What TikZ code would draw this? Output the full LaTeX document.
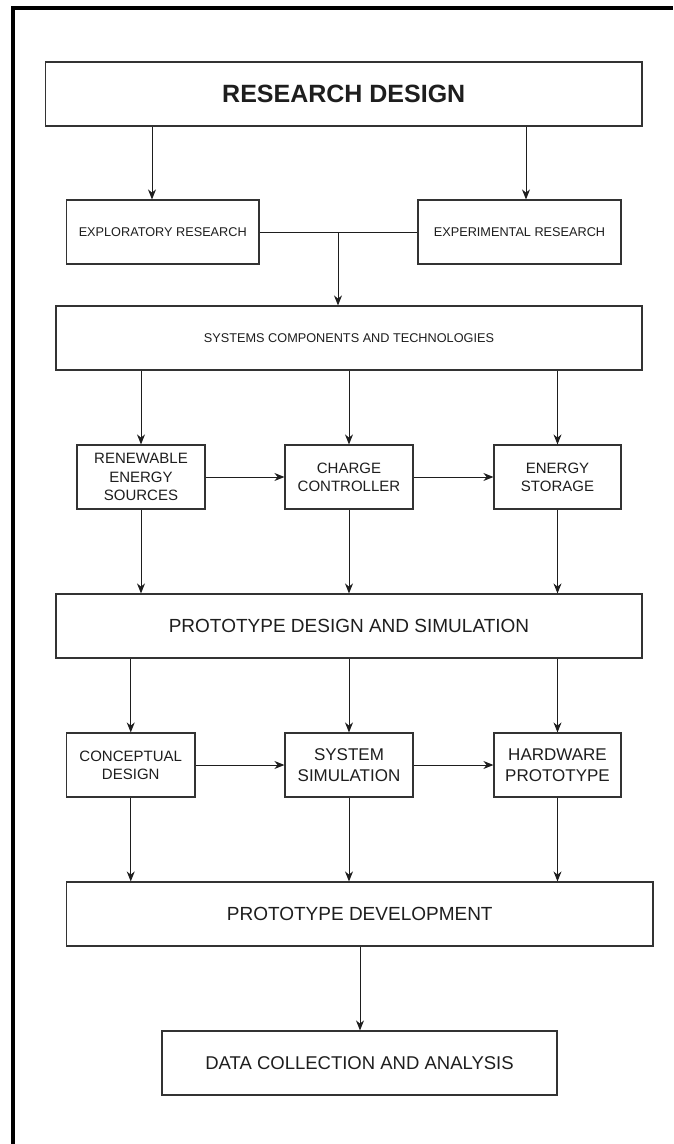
\documentclass[tikz,border=0pt]{standalone}
\usepackage{fontspec}
\setmainfont{Liberation Sans}
\usetikzlibrary{arrows.meta,calc}
\definecolor{ink}{HTML}{1E1E1E}
\definecolor{edge}{HTML}{333333}
\tikzset{
  box/.style={draw=edge, line width=1.2pt, rectangle, inner sep=0pt, align=center, text=ink},
  arr/.style={draw=ink, line width=1pt, -{Stealth[length=10pt,width=8pt]}},
  link/.style={draw=ink, line width=1pt},
  frameline/.style={draw=black, line width=4pt}
}
\newcommand{\fs}[2]{\fontsize{#1}{#2}\selectfont}
\begin{document}
\begin{tikzpicture}[x=1pt,y=-1pt]
\useasboundingbox (0,0) rectangle (673,1144);
\fill[white] (0,0) rectangle (673,1144);
\draw[frameline] (13,1144) -- (13,8) -- (673,8);

\node[box, minimum width=596.5pt, minimum height=64pt, font=\fs{25}{30}\bfseries] (rd) at (343.75,94) {RESEARCH DESIGN};
\node[box, minimum width=192.5pt, minimum height=64pt, font=\fs{12.7}{15}] (expl) at (162.75,232) {EXPLORATORY RESEARCH};
\node[box, minimum width=203pt, minimum height=64pt, font=\fs{12.7}{15}] (expe) at (519.5,232) {EXPERIMENTAL RESEARCH};
\node[box, minimum width=586pt, minimum height=64pt, font=\fs{12.7}{15}] (sys) at (349,338) {SYSTEMS COMPONENTS AND TECHNOLOGIES};

\node[box, minimum width=128pt, minimum height=64pt, font=\fs{15}{18.3}] (ren) at (141,477) {RENEWABLE\\ENERGY\\SOURCES};
\node[box, minimum width=128pt, minimum height=64pt, font=\fs{15}{18.3}] (chg) at (349,477) {CHARGE\\CONTROLLER};
\node[box, minimum width=127pt, minimum height=64pt, font=\fs{15}{18.3}] (sto) at (557.5,477) {ENERGY\\STORAGE};

\node[box, minimum width=586pt, minimum height=64pt, font=\fs{19}{23}] (pds) at (349,626) {PROTOTYPE DESIGN AND SIMULATION};

\node[box, minimum width=128.5pt, minimum height=64pt, font=\fs{15}{18}] (con) at (130.75,765) {CONCEPTUAL\\DESIGN};
\node[box, minimum width=128pt, minimum height=64pt, font=\fs{17}{21}] (sim) at (349,765) {SYSTEM\\SIMULATION};
\node[box, minimum width=127pt, minimum height=64pt, font=\fs{17}{21}] (hw) at (557.5,765) {HARDWARE\\PROTOTYPE};

\node[box, minimum width=586.5pt, minimum height=64pt, font=\fs{19}{23}] (pdev) at (359.75,914) {PROTOTYPE DEVELOPMENT};
\node[box, minimum width=395pt, minimum height=64pt, font=\fs{18.5}{22}] (data) at (359.5,1063) {DATA COLLECTION AND ANALYSIS};

\coordinate (c1) at (152,0);
\coordinate (c2) at (526,0);
\coordinate (j) at (338,232);
\coordinate (c3) at (360,0);

\draw[arr] (c1 |- rd.south) -- (c1 |- expl.north);
\draw[arr] (c2 |- rd.south) -- (c2 |- expe.north);
\draw[link] (expl.east) -- (expe.west);
\draw[arr] (j) -- (j |- sys.north);

\draw[arr] (sys.south -| ren.north) -- (ren.north);
\draw[arr] (sys.south -| chg.north) -- (chg.north);
\draw[arr] (sys.south -| sto.north) -- (sto.north);
\draw[arr] (ren.east) -- (chg.west);
\draw[arr] (chg.east) -- (sto.west);

\draw[arr] (ren.south) -- (ren.south |- pds.north);
\draw[arr] (chg.south) -- (chg.south |- pds.north);
\draw[arr] (sto.south) -- (sto.south |- pds.north);

\draw[arr] (pds.south -| con.north) -- (con.north);
\draw[arr] (pds.south -| sim.north) -- (sim.north);
\draw[arr] (pds.south -| hw.north) -- (hw.north);
\draw[arr] (con.east) -- (sim.west);
\draw[arr] (sim.east) -- (hw.west);

\draw[arr] (con.south) -- (con.south |- pdev.north);
\draw[arr] (sim.south) -- (sim.south |- pdev.north);
\draw[arr] (hw.south) -- (hw.south |- pdev.north);

\draw[arr] (c3 |- pdev.south) -- (c3 |- data.north);
\end{tikzpicture}
\end{document}
